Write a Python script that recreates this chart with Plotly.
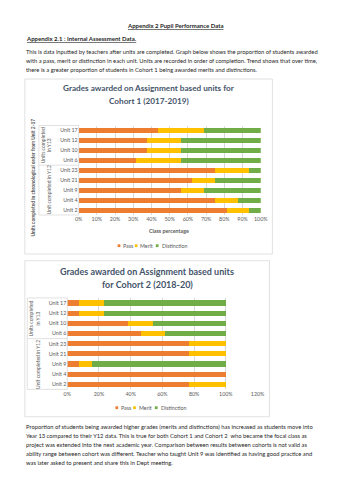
import plotly.graph_objects as go

# ---------------- data ----------------
units = ["Unit 2", "Unit 4", "Unit 9", "Unit 21", "Unit 23", "Unit 6", "Unit 10", "Unit 12", "Unit 17"]
grades = ["Pass", "Merit", "Distinction"]
colors = ["#ED7D31", "#FFC000", "#70AD47"]

c1_pass = [81.25, 75.0, 56.25, 62.5, 75.0, 31.25, 37.5, 37.5, 43.75]
c1_merit = [12.5, 12.5, 12.5, 12.5, 18.75, 25.0, 18.75, 18.75, 25.0]
c1_dist = [6.25, 12.5, 31.25, 25.0, 6.25, 43.75, 43.75, 43.75, 31.25]

c2_pass = [76.9, 100.0, 7.7, 76.9, 76.9, 46.2, 38.5, 7.7, 7.7]
c2_merit = [23.1, 0.0, 7.7, 23.1, 23.1, 15.4, 15.4, 15.4, 15.4]
c2_dist = [0.0, 0.0, 84.6, 0.0, 0.0, 38.5, 46.2, 76.9, 76.9]

c1_ticks = [0, 10, 20, 30, 40, 50, 60, 70, 80, 90, 100]
c2_ticks = [0, 20, 40, 60, 80, 100, 120]

W, H = 353, 500
FONT = "Lato"
TXT = "#1f1f1f"
GRAY = "#595959"
LINE = "#d9d9d9"


def px(x):
    return x / W


def py(y):
    return 1 - y / H


fig = go.Figure()

for vals, name, col in zip([c1_pass, c1_merit, c1_dist], grades, colors):
    fig.add_trace(go.Bar(y=units, x=vals, name=name, orientation="h",
                         marker=dict(color=col, line=dict(width=0)),
                         xaxis="x", yaxis="y", showlegend=False))
for vals, name, col in zip([c2_pass, c2_merit, c2_dist], grades, colors):
    fig.add_trace(go.Bar(y=units, x=vals, name=name, orientation="h",
                         marker=dict(color=col, line=dict(width=0)),
                         xaxis="x2", yaxis="y2", showlegend=False))

tickfont = dict(family=FONT, size=5.3, color=GRAY)

fig.update_layout(
    width=W, height=H,
    margin=dict(l=0, r=0, t=0, b=0),
    paper_bgcolor="white", plot_bgcolor="white",
    barmode="stack", bargap=0.5,
    xaxis=dict(domain=[px(77), px(265)], range=[0, 100], tickvals=c1_ticks,
               ticktext=[f"{t}%" for t in c1_ticks], showgrid=True,
               gridcolor=LINE, gridwidth=0.6, zeroline=False, showline=False,
               tickfont=tickfont, anchor="y", ticks=""),
    yaxis=dict(domain=[py(215), py(125.5)], categoryorder="array",
               categoryarray=units, showgrid=False, zeroline=False,
               showline=False, tickfont=tickfont, anchor="x", ticks=""),
    xaxis2=dict(domain=[px(65.3), px(261.7)], range=[0, 120], tickvals=c2_ticks,
                ticktext=[f"{t}%" for t in c2_ticks], showgrid=True,
                gridcolor=LINE, gridwidth=0.6, zeroline=False, showline=False,
                tickfont=tickfont, anchor="y2", ticks=""),
    yaxis2=dict(domain=[py(389.4), py(297.9)], categoryorder="array",
                categoryarray=units, showgrid=False, zeroline=False,
                showline=False, tickfont=tickfont, anchor="x2", ticks=""),
)

shapes = []
# chart boxes
shapes.append(dict(type="rect", xref="paper", yref="paper", x0=px(21.5), x1=px(277),
                   y0=py(254), y1=py(79), line=dict(color=LINE, width=0.8)))
shapes.append(dict(type="rect", xref="paper", yref="paper", x0=px(21.5), x1=px(274),
                   y0=py(416.7), y1=py(260.7), line=dict(color=LINE, width=0.8)))


def hline(x0, x1, y):
    shapes.append(dict(type="line", xref="paper", yref="paper", x0=px(x0), x1=px(x1),
                       y0=py(y), y1=py(y), line=dict(color=LINE, width=0.8)))


def vline(x, y0, y1):
    shapes.append(dict(type="line", xref="paper", yref="paper", x0=px(x), x1=px(x),
                       y0=py(y0), y1=py(y1), line=dict(color=LINE, width=0.8)))


# multi-level category lines chart 1
for y in (125.5, 165.2, 215):
    hline(36, 77, y)
vline(36, 125.5, 215)
vline(77, 125.5, 215)
# chart 2
for y in (297.9, 338.6, 389.4):
    hline(24, 65.3, y)
vline(24, 297.9, 389.4)
vline(65.3, 297.9, 389.4)

annotations = []


def text(x, y, s, size, color=TXT, xanchor="left", angle=0, family=FONT):
    annotations.append(dict(x=px(x), y=py(y), xref="paper", yref="paper", text=s,
                            showarrow=False, xanchor=xanchor, yanchor="middle",
                            textangle=angle, align="center",
                            font=dict(family=family, size=size, color=color)))


# custom legends
def legend(y, items):
    for (sx, tx), name, col in zip(items, grades, colors):
        shapes.append(dict(type="rect", xref="paper", yref="paper",
                           x0=px(sx), x1=px(sx + 2.8), y0=py(y + 1.4), y1=py(y - 1.4),
                           fillcolor=col, line=dict(width=0)))
        text(tx, y, name, 5.3, GRAY)


legend(245.7, [(117.3, 121.2), (135.0, 138.8), (156.7, 160.8)])
legend(407.7, [(115.0, 118.8), (133.3, 137.2), (155.7, 159.6)])

# page text
text(176.5, 25, "<b><u>Appendix 2 Pupil Performance Data</u></b>", 6.0, xanchor="center")
text(21, 39, "<b><u>Appendix 2.1 : Internal Assessment Data.</u></b>", 6.0)
top_lines = [
    "This is data inputted by teachers after units are completed. Graph below shows the proportion of students awarded",
    "with a pass, merit or distinction in each unit. Units are recorded in order of completion. Trend shows that over time,",
    "there is a greater proportion of students in Cohort 1 being awarded merits and distinctions.",
]
for i, s in enumerate(top_lines):
    text(21, 52 + i * 8.6, s, 5.8)

bottom_lines = [
    "Proportion of students being awarded higher grades (merits and distinctions) has increased as students move into",
    "Year 13 compared to their Y12 data. This is true for both Cohort 1 and Cohort 2  who became the focal class as",
    "project was extended into the next academic year. Comparison between results between cohorts is not valid as",
    "ability range between cohort was different. Teacher who taught Unit 9 was identified as having good practice and",
    "was later asked to present and share this in Dept meeting.",
]
for i, s in enumerate(bottom_lines):
    text(21, 426.7 + i * 8.85, s, 5.8)

# chart titles
TC = "#44546A"
text(149.5, 88.3, "<b>Grades awarded on Assignment based units for</b>", 8.2, TC, "center")
text(149.5, 100.5, "<b>Cohort 1 (2017-2019)</b>", 8.2, TC, "center")
text(147.8, 271.7, "<b>Grades awarded on Assignment based units</b>", 9.0, TC, "center")
text(147.8, 284.7, "<b>for Cohort 2 (2018-20)</b>", 9.0, TC, "center")

# axis titles and group labels
text(170.8, 230.7, "<b>Class percentage</b>", 5.3, GRAY, "center")
text(29, 177.5, "<b>Units completed in chronological order from Unit 2-17</b>", 4.9, GRAY, "center", -90)
text(43.3, 145.3, "Units completed<br>in Y13", 5.0, GRAY, "center", -90)
text(46.7, 190, "Unit completed in Y12", 5.0, GRAY, "center", -90)
text(31.3, 318.2, "Units completed<br>in Y13", 5.0, GRAY, "center", -90)
text(35, 364, "Unit completed in Y12", 5.0, GRAY, "center", -90)

fig.update_layout(shapes=shapes, annotations=annotations)
fig.write_html("out.html")
